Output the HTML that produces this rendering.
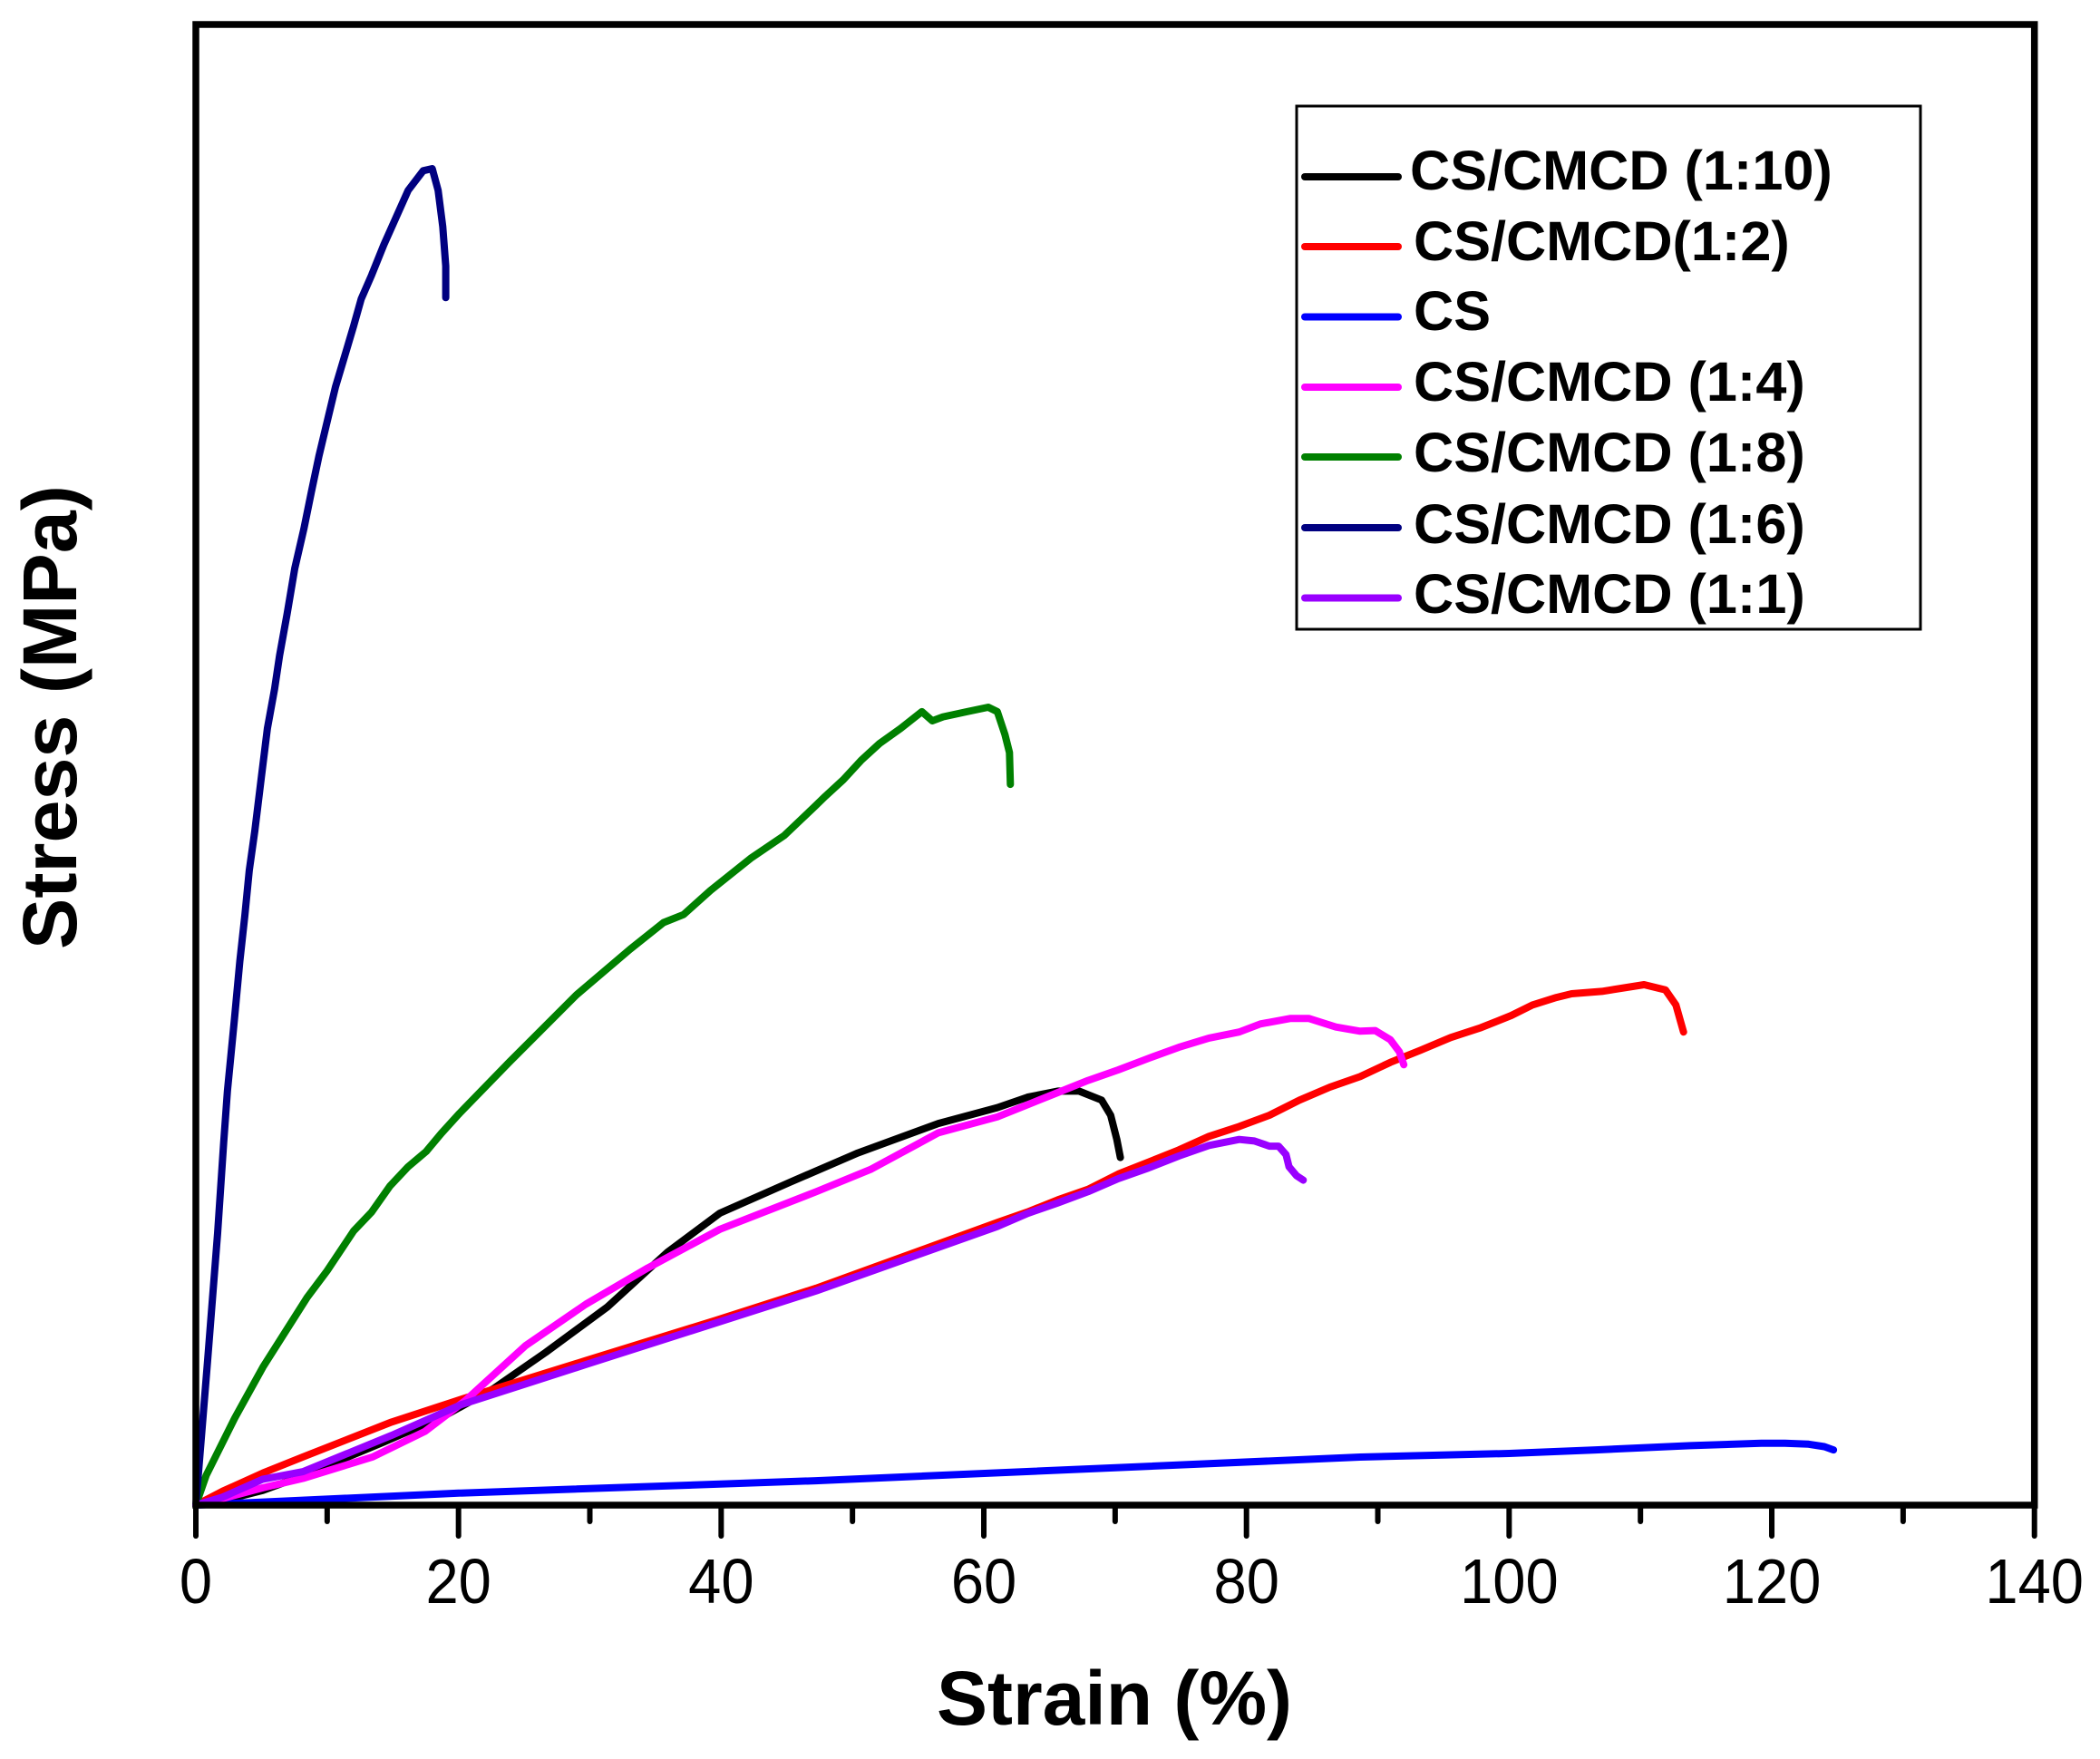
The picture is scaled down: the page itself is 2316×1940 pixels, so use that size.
<!DOCTYPE html>
<html>
<head>
<meta charset="utf-8">
<title>Stress-strain curves</title>
<style>
html,body{margin:0;padding:0;background:#fff;}
svg{display:block;}
text{font-family:"Liberation Sans",Arial,sans-serif;fill:#000;}
.tick{font-size:70px;text-anchor:middle;}
.legend{font-size:61.2px;font-weight:bold;}
.title{font-size:84px;font-weight:bold;text-anchor:middle;}
</style>
</head>
<body>
<svg id="chart" width="2316" height="1940" viewBox="0 0 2316 1940" xmlns="http://www.w3.org/2000/svg">
  <rect x="0" y="0" width="2316" height="1940" fill="#fff"/>
  <g id="series-layer"></g>
  <rect x="216" y="27" width="2027.7" height="1633" fill="none" stroke="#000" stroke-width="7.5"/>
  <g id="tick-layer"></g>
  <text class="title" x="1229" y="1902">Strain (%)</text>
  <text class="title" style="font-size:84.5px" transform="translate(84 791) rotate(-90)">Stress (MPa)</text>
  <g>
    <rect x="1430" y="117" width="688" height="577" fill="#fff" stroke="#000" stroke-width="3"/>
    <g>
      <line x1="1439" y1="195" x2="1542" y2="195" stroke="#000000" stroke-width="8" stroke-linecap="round"/>
      <text class="legend" x="1555" y="209">CS/CMCD (1:10)</text>
    </g>
    <g>
      <line x1="1439" y1="272" x2="1542" y2="272" stroke="#ff0000" stroke-width="8" stroke-linecap="round"/>
      <text class="legend" x="1559" y="287">CS/CMCD(1:2)</text>
    </g>
    <g>
      <line x1="1439" y1="349.5" x2="1542" y2="349.5" stroke="#0000ff" stroke-width="8" stroke-linecap="round"/>
      <text class="legend" x="1559" y="364">CS</text>
    </g>
    <g>
      <line x1="1439" y1="427" x2="1542" y2="427" stroke="#ff00ff" stroke-width="8" stroke-linecap="round"/>
      <text class="legend" x="1559" y="442">CS/CMCD (1:4)</text>
    </g>
    <g>
      <line x1="1439" y1="504" x2="1542" y2="504" stroke="#008000" stroke-width="8" stroke-linecap="round"/>
      <text class="legend" x="1559" y="520">CS/CMCD (1:8)</text>
    </g>
    <g>
      <line x1="1439" y1="582" x2="1542" y2="582" stroke="#000080" stroke-width="8" stroke-linecap="round"/>
      <text class="legend" x="1559" y="599">CS/CMCD (1:6)</text>
    </g>
    <g>
      <line x1="1439" y1="659.5" x2="1542" y2="659.5" stroke="#9900ff" stroke-width="8" stroke-linecap="round"/>
      <text class="legend" x="1559" y="676">CS/CMCD (1:1)</text>
    </g>
  </g>
</svg>
<script>
var majorTicks = [0, 20, 40, 60, 80, 100, 120, 140];
var minorTicks = [10, 30, 50, 70, 90, 110, 130];

var strain1to10 = [0, 2.04, 5.1, 8.16, 14.29, 18.98, 22.65, 26.63, 31.33, 35.92, 39.9, 45.2, 50.41, 56.53, 61.03, 63.33, 65.63, 67.25, 68.97, 69.66, 70.13, 70.4];
var stress1to10 = [0, 0.3, 1.0, 1.99, 4.25, 6.06, 7.87, 10.32, 13.39, 17.1, 19.73, 21.81, 23.8, 25.79, 26.86, 27.57, 27.98, 27.98, 27.37, 26.35, 24.71, 23.49];

var strain1to2 = [0, 2.04, 5.1, 8.16, 14.9, 20.2, 29.69, 39.59, 47.24, 61.03, 63.33, 65.63, 67.94, 70.23, 72.53, 74.84, 77.14, 79.45, 81.75, 84.04, 86.35, 88.65, 90.95, 93.25, 95.55, 97.85, 100.16, 101.77, 103.6, 104.76, 107.06, 110.28, 111.9, 112.7, 113.28];
var stress1to2 = [0, 0.94, 2.17, 3.26, 5.61, 7.15, 9.77, 12.49, 14.66, 19.1, 19.81, 20.63, 21.34, 22.37, 23.18, 24, 24.92, 25.59, 26.35, 27.37, 28.25, 28.96, 29.92, 30.74, 31.6, 32.27, 33.09, 33.8, 34.31, 34.56, 34.72, 35.17, 34.82, 33.8, 31.97];

var strainCS = [0, 20, 47.2, 88.65, 100, 106.6, 113.8, 119.2, 121, 122.8, 124, 124.7];
var stressCS = [0, 0.81, 1.65, 3.25, 3.49, 3.73, 4.02, 4.18, 4.18, 4.12, 3.95, 3.73];

var strain1to4 = [0, 2.04, 5.1, 8.16, 13.47, 17.45, 20.51, 25.1, 29.69, 34.39, 39.9, 47.24, 51.43, 56.53, 61.03, 63.33, 65.63, 67.94, 70.23, 72.53, 74.84, 77.14, 79.45, 81.06, 83.36, 84.74, 86.81, 88.65, 89.8, 90.95, 91.64, 91.98];
var stress1to4 = [0, 0.45, 1.17, 1.81, 3.26, 4.98, 7.06, 10.77, 13.57, 16.02, 18.64, 21.18, 22.71, 25.16, 26.24, 27.06, 27.88, 28.7, 29.41, 30.19, 30.94, 31.56, 31.97, 32.52, 32.89, 32.89, 32.31, 32.03, 32.07, 31.45, 30.64, 29.76];

var strain1to8 = [0, 0.78, 2.96, 5.1, 8.47, 10, 12.01, 13.39, 14.77, 16.16, 17.54, 18.69, 20.07, 23.88, 28.98, 33.06, 35.61, 37.14, 39.18, 42.24, 44.8, 47.22, 47.92, 49.3, 50.68, 52.06, 53.67, 55.28, 56.08, 56.89, 58.73, 60.34, 61.03, 61.61, 61.95, 62.02];
var stress1to8 = [0, 2, 5.88, 9.32, 14.03, 15.84, 18.52, 19.81, 21.55, 22.87, 23.9, 25.12, 26.47, 29.95, 34.48, 37.56, 39.37, 39.91, 41.54, 43.71, 45.25, 47.29, 47.9, 49.02, 50.35, 51.47, 52.49, 53.62, 53, 53.27, 53.62, 53.92, 53.62, 52.08, 50.86, 48.71];

var strain1to6 = [0, 0.9, 1.66, 2.12, 2.4, 2.92, 3.35, 3.73, 4.07, 4.49, 4.99, 5.45, 5.99, 6.37, 6.95, 7.53, 8.22, 8.79, 9.37, 10.08, 10.63, 11.32, 12.01, 12.59, 13.39, 14.31, 15.24, 16.16, 17.31, 18, 18.45, 18.8, 19.03, 19.03];
var stress1to6 = [0, 9.8, 18.38, 24.51, 27.98, 32.68, 36.76, 39.83, 42.89, 45.55, 49.22, 52.49, 55.15, 57.4, 60.25, 63.31, 65.97, 68.44, 70.88, 73.53, 75.57, 77.62, 79.66, 81.5, 83.13, 85.17, 87.01, 88.85, 90.18, 90.32, 88.85, 86.4, 83.74, 81.6];

var strain1to1 = [0, 2.04, 5.1, 8.16, 14.9, 20.2, 29.69, 47.24, 61.03, 63.33, 65.63, 67.94, 70.23, 72.53, 74.84, 77.14, 79.45, 80.6, 81.75, 82.44, 83.01, 83.24, 83.81, 84.32];
var stress1to1 = [0, 0.54, 1.75, 2.26, 4.71, 6.79, 9.5, 14.48, 18.83, 19.71, 20.42, 21.18, 22.06, 22.78, 23.59, 24.31, 24.71, 24.61, 24.26, 24.26, 23.69, 22.87, 22.26, 21.96];

function xScale(v) { return 216 + v * (2243.7 - 216) / 140; }
function yScale(v) { return 1660 - v * (1660 - 28) / 100; }

var SVGNS = 'http://www.w3.org/2000/svg';
var seriesLayer = document.getElementById('series-layer');
var tickLayer = document.getElementById('tick-layer');

function drawSeries(xs, ys, color, label) {
  var pts = [];
  for (var i = 0; i < xs.length; i++) {
    pts.push(xScale(xs[i]).toFixed(1) + ',' + yScale(ys[i]).toFixed(1));
  }
  var el = document.createElementNS(SVGNS, 'polyline');
  el.setAttribute('points', pts.join(' '));
  el.setAttribute('fill', 'none');
  el.setAttribute('stroke', color);
  el.setAttribute('stroke-width', '8');
  el.setAttribute('stroke-linejoin', 'round');
  el.setAttribute('stroke-linecap', 'round');
  
  
  seriesLayer.appendChild(el);
}

drawSeries(strain1to10, stress1to10, '#000000', 'series-cs-cmcd-1-10');
drawSeries(strain1to2, stress1to2, '#ff0000', 'series-cs-cmcd-1-2');
drawSeries(strainCS, stressCS, '#0000ff', 'series-cs');
drawSeries(strain1to4, stress1to4, '#ff00ff', 'series-cs-cmcd-1-4');
drawSeries(strain1to8, stress1to8, '#008000', 'series-cs-cmcd-1-8');
drawSeries(strain1to6, stress1to6, '#000080', 'series-cs-cmcd-1-6');
drawSeries(strain1to1, stress1to1, '#9900ff', 'series-cs-cmcd-1-1');

majorTicks.forEach(function (t) {
  var line = document.createElementNS(SVGNS, 'line');
  line.setAttribute('x1', xScale(t));
  line.setAttribute('x2', xScale(t));
  line.setAttribute('y1', 1660);
  line.setAttribute('y2', 1694);
  line.setAttribute('stroke', '#000');
  line.setAttribute('stroke-width', '6');
  line.setAttribute('stroke-linecap', 'round');
  
  
  tickLayer.appendChild(line);
  var label = document.createElementNS(SVGNS, 'text');
  label.setAttribute('class', 'tick');
  label.setAttribute('transform', 'translate(' + xScale(t) + ' 1768) scale(0.93 1)');
  label.textContent = String(t);
  
  
  tickLayer.appendChild(label);
});

minorTicks.forEach(function (t) {
  var line = document.createElementNS(SVGNS, 'line');
  line.setAttribute('x1', xScale(t));
  line.setAttribute('x2', xScale(t));
  line.setAttribute('y1', 1660);
  line.setAttribute('y2', 1678);
  line.setAttribute('stroke', '#000');
  line.setAttribute('stroke-width', '6');
  line.setAttribute('stroke-linecap', 'round');
  
  
  tickLayer.appendChild(line);
});
</script>
</body>
</html>
